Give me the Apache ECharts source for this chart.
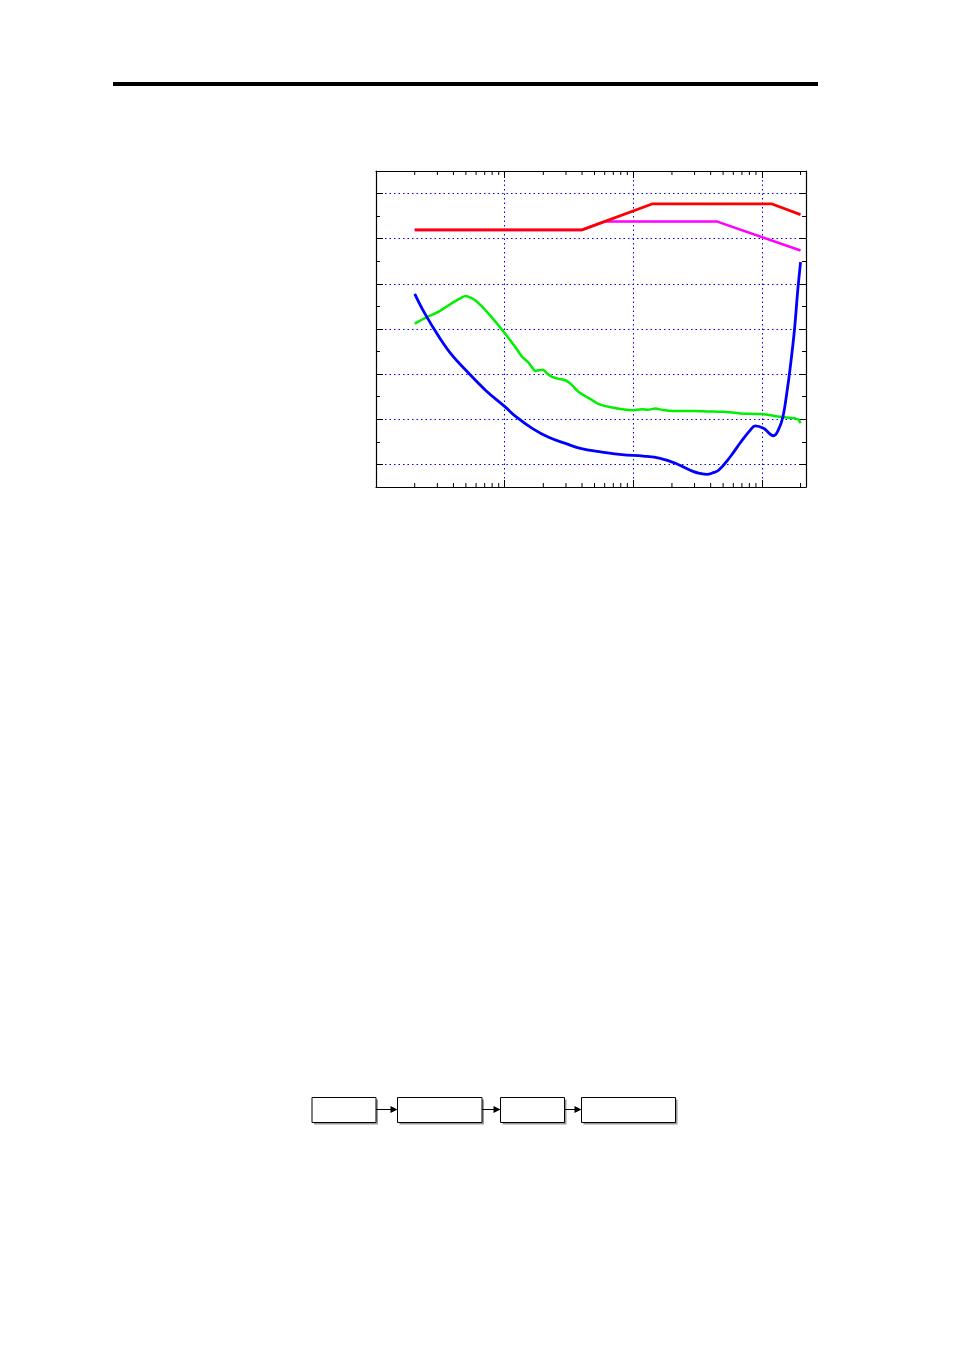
<!DOCTYPE html>
<html>
<head>
<meta charset="utf-8">
<script src="https://cdn.jsdelivr.net/npm/echarts@6/dist/echarts.min.js"></script>
<style>
html,body{margin:0;padding:0;background:#fff;}
#chart{width:954px;height:1351px;}
</style>
</head>
<body>
<div id="chart"></div>
<script>
// ---- data (frequency in Hz, level in arbitrary grid units) ----
const redCurve = [[20,10.39],[400,10.39],[1400,11.54],[12000,11.54],[20000,11.07]];
const magentaCurve = [[20,10.39],[400,10.39],[600,10.76],[4500,10.76],[20000,9.48]];
const greenCurve = [
  [20,6.24],[24,6.48],[31,6.78],[39,7.15],[50,7.46],[59,7.27],[75,6.68],[101,5.79],
  [121,5.20],[137,4.76],[154,4.50],[174,4.14],[184,4.17],[199,4.20],[214,4.03],[234,3.88],
  [263,3.79],[297,3.73],[325,3.58],[377,3.21],[425,3.02],[479,2.85],[539,2.67],[684,2.52],
  [979,2.40],[1170,2.45],[1300,2.42],[1485,2.48],[1700,2.41],[2060,2.37],[3000,2.37],[3750,2.35],
  [5000,2.33],[6800,2.26],[10000,2.23],[13900,2.11],[18200,2.04],[19300,1.98],[20000,1.82]
];
const blueCurve = [
  [20,7.56],[24,6.68],[31,5.64],[39,4.84],[50,4.17],[71,3.29],[101,2.55],[121,2.14],
  [164,1.60],[220,1.20],[297,0.93],[388,0.71],[572,0.55],[818,0.43],[1200,0.37],[1620,0.27],
  [2190,0.02],[2950,-0.32],[3320,-0.40],[3750,-0.44],[4120,-0.38],[4610,-0.26],[5680,0.34],
  [6800,0.96],[8130,1.52],[8890,1.71],[10300,1.60],[12330,1.27],[13500,1.55],[14590,2.11],
  [15670,3.20],[16630,4.30],[17960,6.00],[18950,7.60],[20000,8.96]
];
const minorXTicks = [20,30,40,50,60,70,80,90,200,300,400,500,600,700,800,900,
  2000,3000,4000,5000,6000,7000,8000,9000,20000];
const xRange = [10, 22050];
const yRange = [-1, 13];

const chart = echarts.init(document.getElementById('chart'), null, {renderer:'canvas'});

const dotted = {color:'#0000ff', width:1, type:[1.5,3]};
const axLine = {show:true, onZero:false, lineStyle:{color:'#000', width:1.2}};

function xAx(pos, grid){
  return {
    type:'log', logBase:10, min:xRange[0], max:xRange[1], position:pos,
    axisLine:axLine,
    axisTick:{show:true, inside:true, length:7, lineStyle:{color:'#000', width:1}},
    axisLabel:{show:false},
    splitLine:{show:grid, showMinLine:false, showMaxLine:false, lineStyle:dotted},
    minorTick:{show:false}, minorSplitLine:{show:false}
  };
}
function yAx(pos, grid){
  return {
    type:'value', min:yRange[0], max:yRange[1], position:pos,
    minInterval:2, maxInterval:2, splitNumber:7,
    axisLine:axLine,
    axisTick:{show:true, inside:true, length:7, lineStyle:{color:'#000', width:1}},
    minorTick:{show:true, splitNumber:2, length:4, lineStyle:{color:'#000', width:1}},
    axisLabel:{show:false},
    splitLine:{show:grid, showMinLine:false, showMaxLine:false, lineStyle:dotted},
    minorSplitLine:{show:false}
  };
}

const option = {
  animation:false,
  backgroundColor:'#ffffff',
  grid:{left:376, top:171, width:430, height:316, containLabel:false},
  xAxis:[xAx('bottom', true), xAx('top', false)],
  yAxis:[yAx('left', true), yAx('right', false)],
  series:[
    {type:'custom', xAxisIndex:0, yAxisIndex:0, silent:true, clip:false,
     data:minorXTicks.map(v=>[v,0]),
     renderItem:function(params, api){
       const x = api.value(0);
       const pb = api.coord([x, yRange[0]]);
       const pt = api.coord([x, yRange[1]]);
       return {type:'group', children:[
         {type:'line', shape:{x1:pb[0], y1:pb[1], x2:pb[0], y2:pb[1]-4}, style:{stroke:'#000', lineWidth:1}},
         {type:'line', shape:{x1:pt[0], y1:pt[1], x2:pt[0], y2:pt[1]+4}, style:{stroke:'#000', lineWidth:1}}
       ]};
     }},
    {type:'line', data:greenCurve, showSymbol:false, smooth:0.2,
     lineStyle:{color:'#00f000', width:2.5}, z:3},
    {type:'line', data:blueCurve, showSymbol:false, smooth:0.4,
     lineStyle:{color:'#0000ff', width:2.8}, z:4},
    {type:'line', data:magentaCurve, showSymbol:false,
     lineStyle:{color:'#ff00ff', width:2.5}, z:5},
    {type:'line', data:redCurve, showSymbol:false,
     lineStyle:{color:'#ff0000', width:2.8}, z:6}
  ],
  graphic:[
    {type:'rect', shape:{x:113, y:82, width:705, height:4}, style:{fill:'#000'}},
    // block diagram
    ...[[312,64],[397.5,84.5],[500.5,64],[581.5,94]].flatMap(([x,w])=>[
      {type:'rect', shape:{x:x+2, y:1099.5, width:w, height:25}, style:{fill:'#9a9a9a'}},
      {type:'rect', shape:{x:x, y:1097.5, width:w, height:25}, style:{fill:'#fff', stroke:'#000', lineWidth:1}}
    ]),
    ...[[376,397.5],[482,500.5],[564.5,581.5]].flatMap(([a,b])=>[
      {type:'line', shape:{x1:a, y1:1109.5, x2:b-5, y2:1109.5}, style:{stroke:'#000', lineWidth:1}},
      {type:'polygon', shape:{points:[[b,1109.5],[b-7,1106],[b-7,1113]]}, style:{fill:'#000'}}
    ])
  ]
};
chart.setOption(option);
</script>
</body>
</html>
